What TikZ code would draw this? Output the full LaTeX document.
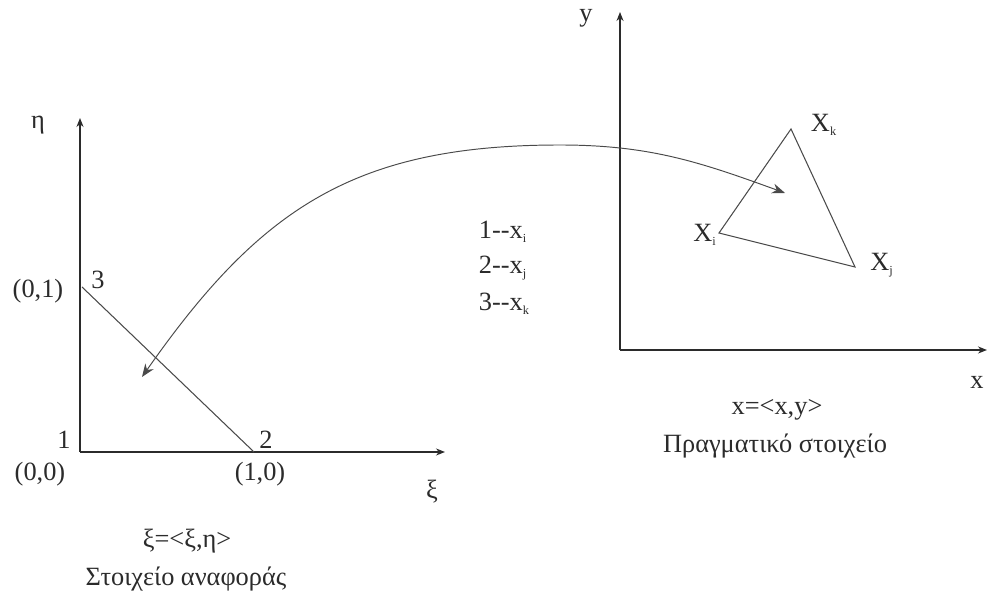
\documentclass[tikz,border=0pt]{standalone}
\usepackage{fontspec}
\setmainfont{Liberation Serif}
\usepackage{tikz}
\usetikzlibrary{arrows.meta,positioning}
\definecolor{MapInk}{HTML}{2B2B2B}
\definecolor{MapGray}{HTML}{4A4A4A}
\tikzset{
  lbl/.style={font=\fontsize{15}{17}\selectfont,inner sep=0pt,text=MapInk},
  axisline/.style={-{Stealth[length=1.8mm,width=1.4mm]},line width=0.8pt,draw=MapInk},
  elemline/.style={line width=0.6pt,draw=MapGray},
  maparrow/.style={{Stealth[length=2.6mm,width=2.0mm]}-{Stealth[length=2.6mm,width=2.0mm]},line width=0.55pt,draw=MapGray}
}
\newcommand{\sbs}[1]{\textsubscript{\fontsize{7}{8}\selectfont #1}}
\begin{document}
\begin{tikzpicture}[x=0.2mm,y=0.2mm]
\useasboundingbox (0,0) rectangle (989,600);
% reference element
\coordinate (o1) at (80,148);
\coordinate (etatop) at (80,482);
\coordinate (xiend) at (445,148);
\coordinate (n3) at (82,313);
\coordinate (n2) at (254,148);
\draw[axisline] (o1) -- (etatop);
\draw[axisline] (o1) -- (xiend);
\draw[elemline] (n3) -- (n2);
\node[lbl] (eta) at (38,475) {η};
\node[lbl] (xi) at (432,108) {ξ};
\node[lbl] (c01) at (38,309) {(0,1)};
\node[lbl] (c00) at (40,126) {(0,0)};
\node[lbl] (c10) at (260,126) {(1,0)};
\node[lbl] (k1) at (64,160) {1};
\node[lbl] (k2) at (266,160) {2};
\node[lbl] (k3) at (98,320) {3};
\node[lbl] (refdef) at (187,59) {ξ=<ξ,η>};
\node[lbl] (refname) at (186,21) {Στοιχείο αναφοράς};
% real element
\coordinate (o2) at (620,250);
\coordinate (ytop) at (620,588);
\coordinate (xend) at (987,250);
\coordinate (vi) at (719,367);
\coordinate (vk) at (791,471);
\coordinate (vj) at (855,333);
\draw[axisline] (o2) -- (ytop);
\draw[axisline] (o2) -- (xend);
\draw[elemline] (vi) -- (vk) -- (vj) -- cycle;
\node[lbl] (ylab) at (586,582) {y};
\node[lbl] (xlab) at (977,218) {x};
\node[lbl] (lk) at (824,475) {X\sbs{k}};
\node[lbl] (li) at (705,365) {X\sbs{i}};
\node[lbl] (lj) at (882,335) {X\sbs{j}};
\node[lbl] (realdef) at (777,190) {x=<x,y>};
\node[lbl] (realname) at (775,154) {Πραγματικό στοιχείο};
% node correspondence
\node[lbl,align=left] (m1) at (503,368) {1-{}-x\sbs{i}};
\node[lbl,align=left,below=2.5mm of m1.south west,anchor=north west] (m2) {2-{}-x\sbs{j}};
\node[lbl,align=left,below=2.5mm of m2.south west,anchor=north west] (m3) {3-{}-x\sbs{k}};
% mapping
\coordinate (tipref) at (142,223);
\coordinate (peak) at (560,455);
\coordinate (tipreal) at (785,407);
\draw[maparrow] (tipref) to[out=55,in=180,looseness=1.1] (peak) to[out=0,in=160] (tipreal);
\end{tikzpicture}
\end{document}
